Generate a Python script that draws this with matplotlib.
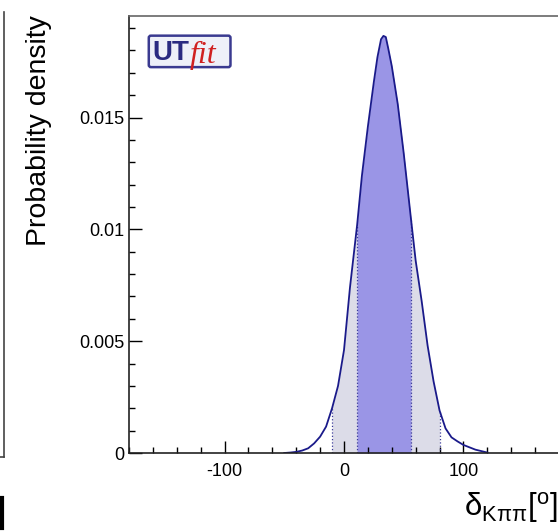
import matplotlib
matplotlib.use('Agg')
import matplotlib.pyplot as plt
from matplotlib.lines import Line2D
from matplotlib.patches import FancyBboxPatch
from matplotlib.ticker import MultipleLocator
import numpy as np

plt.rcParams['font.family'] = ['Liberation Sans', 'DejaVu Sans']
plt.rcParams['mathtext.fontset'] = 'custom'
plt.rcParams['mathtext.rm'] = 'Liberation Sans'
plt.rcParams['mathtext.it'] = 'Liberation Sans'

## data
delta = [-50, -45, -40, -35, -30, -25, -20, -15, -10, -5, 0, 5, 11, 15, 20, 25,
         28, 31, 33, 35, 37, 40, 45, 50, 56, 60, 65, 70, 75, 80, 85, 90, 95,
         100, 110, 120]
density = [0.0, 0.00002, 0.00005, 0.00011, 0.00021, 0.00043, 0.00073, 0.00118,
           0.0020, 0.0030, 0.0046, 0.0074, 0.0102, 0.0124, 0.0146, 0.0166,
           0.0177, 0.0185, 0.01865, 0.0186, 0.0181, 0.0173, 0.0156, 0.0134,
           0.0105, 0.0086, 0.0068, 0.0048, 0.0032, 0.0019, 0.0011, 0.0007,
           0.00052, 0.00036, 0.00015, 0.00002]
int68 = [11, 56]
int95 = [-10, 80]

x = np.array(delta)
y = np.array(density)

fig = plt.figure(figsize=(5.58, 5.31), dpi=100)
ax = fig.add_axes([129/558, 78/531, 430/558, 437/531])

m95 = (x >= int95[0]) & (x <= int95[1])
m68 = (x >= int68[0]) & (x <= int68[1])
ax.fill_between(x, 0, y, where=m95, color='#dcdce8', lw=0)
ax.fill_between(x, 0, y, where=m68, color='#9a95e6', lw=0)
for b in int95 + int68:
    yb = y[x == b][0]
    ax.plot([b, b], [0, yb], color='#3a3a9a', lw=0.9, ls=':')
ax.plot(x, y, color='#1a1a8a', lw=1.3)

ax.set_xlim(-180, 180)
ax.set_ylim(0, 0.01954)
ax.xaxis.set_major_locator(MultipleLocator(100))
ax.xaxis.set_minor_locator(MultipleLocator(20))
ax.yaxis.set_major_locator(MultipleLocator(0.005))
ax.yaxis.set_minor_locator(MultipleLocator(0.001))
ax.set_xticks([-100, 0, 100])
ax.set_xticklabels(['-100', '0', '100'])
ax.set_yticks([0, 0.005, 0.01, 0.015])
ax.set_yticklabels(['0', '0.005', '0.01', '0.015'])
ax.tick_params(which='both', direction='in', labelsize=13, color='black', width=1)
ax.tick_params(which='major', length=9)
ax.tick_params(which='minor', length=4.5)
ax.tick_params(axis='x', top=False, pad=7)
ax.tick_params(axis='y', right=False, pad=3)
for s in ['left', 'bottom', 'top']:
    ax.spines[s].set_linewidth(1.2)
    ax.spines[s].set_color('#222222')
ax.spines['top'].set_color('#666666')
ax.spines['right'].set_visible(False)

ax.set_ylabel('Probability density', fontsize=20.5)
ax.yaxis.set_label_coords(-0.18, 0.737)

fig.text(0.999, 0.012, r'$\mathregular{\delta_{K\pi\pi}[^{o}]}$', fontsize=22.5,
         ha='right', va='bottom')

# UTfit logo
logo = FancyBboxPatch((0.046, 0.883), 0.19, 0.072, boxstyle='round,pad=0,rounding_size=0.005',
                      transform=ax.transAxes, facecolor='#eef0f8', edgecolor='#3a3a90', lw=1.8)
ax.add_patch(logo)
ax.text(0.054, 0.899, 'UT', transform=ax.transAxes, fontsize=20, fontweight='bold',
        color='#2a2a80', ha='left', va='baseline')
ax.text(0.140, 0.893, 'fit', transform=ax.transAxes, fontsize=23, style='italic',
        family='Liberation Serif', color='#d02020', ha='left', va='baseline')

# bits of the neighbouring panel at the left edge
fig.add_artist(Line2D([4/558, 4/558], [1 - 12/531, 1 - 457/531], color='#444444', lw=1.2))
fig.add_artist(Line2D([0, 4/558], [1 - 457/531, 1 - 457/531], color='#444444', lw=1.2))
fig.add_artist(Line2D([1.5/558, 1.5/558], [1 - 498/531, 1 - 528/531], color='black', lw=3))

plt.savefig('out.png', dpi=100)
